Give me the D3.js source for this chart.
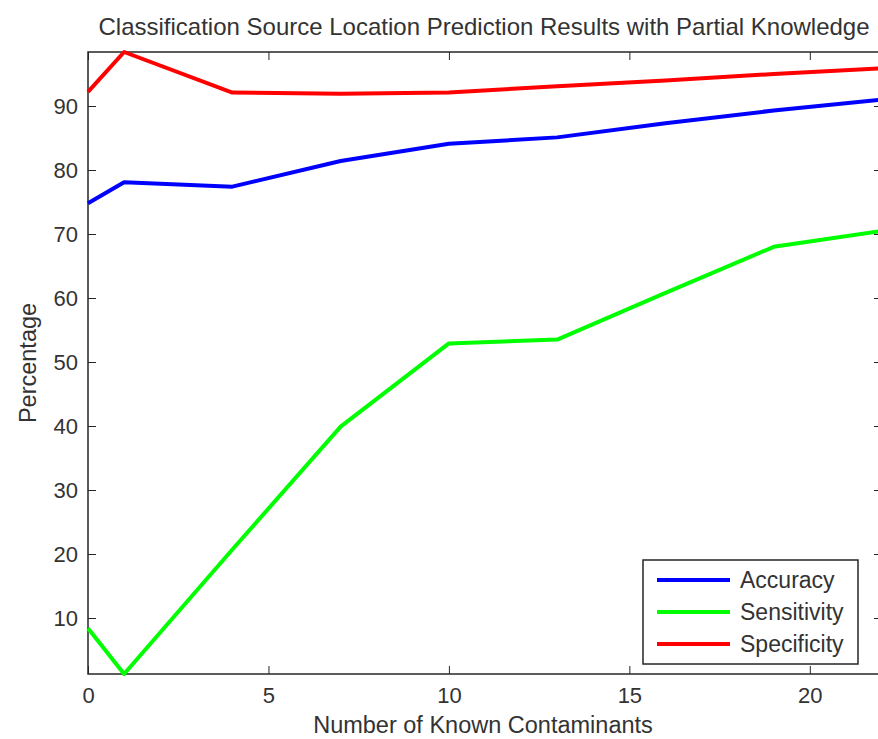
<!DOCTYPE html>
<html>
<head>
<meta charset="utf-8">
<script src="https://cdn.jsdelivr.net/npm/d3@7"></script>
<style>
  body { margin: 0; background: #fff; }
  svg { display: block; }
</style>
</head>
<body>
<script>
//------------------------------------------------------------------------------
// Data
//------------------------------------------------------------------------------

var knownContaminants = [0, 1, 4, 7, 10, 13, 16, 19, 22];
var accuracy    = [74.8, 78.1, 77.4, 81.4, 84.1, 85.1, 87.3, 89.3, 91.0];
var sensitivity = [8.4, 1.25, 20.7, 39.9, 52.9, 53.5, 60.8, 68.0, 70.5];
var specificity = [92.2, 98.44, 92.1, 91.9, 92.1, 93.1, 94.0, 95.0, 95.9];

var seriesNames = ["Accuracy", "Sensitivity", "Specificity"];
var xTicks = [0, 5, 10, 15, 20];
var yTicks = [10, 20, 30, 40, 50, 60, 70, 80, 90];

//------------------------------------------------------------------------------
// Layout
//------------------------------------------------------------------------------

var width = 878, height = 739;
var box = {left: 88, right: 882, top: 52, bottom: 674};
var colors = {"Accuracy": "#0000ff", "Sensitivity": "#00ff00", "Specificity": "#ff0000"};
var font = "'Liberation Sans', Arial, Helvetica, sans-serif";
var ink = "#262626";
var textInk = "#333";

var x = d3.scaleLinear().domain([0, 22]).range([box.left, box.right]);
var y = d3.scaleLinear().domain([1.25, 98.44]).range([box.bottom, box.top]);

var svg = d3.select("body").append("svg")
  .attr("width", width)
  .attr("height", height);

//--------------------------------------
// Axes (box with inward ticks)
//--------------------------------------

var tickLen = 8;

svg.append("g")
  .attr("transform", "translate(0," + box.bottom + ")")
  .call(d3.axisBottom(x).tickValues(xTicks).tickSizeInner(-tickLen).tickSizeOuter(0).tickPadding(13))
  .call(function(g) {
    g.select(".domain").remove();
    g.selectAll("line").attr("stroke", ink);
    g.selectAll("text").attr("font-family", font).attr("font-size", "22px").attr("fill", textInk);
  });

svg.append("g")
  .attr("transform", "translate(0," + box.top + ")")
  .call(d3.axisTop(x).tickValues(xTicks).tickSizeInner(-tickLen).tickSizeOuter(0).tickFormat(""))
  .call(function(g) {
    g.select(".domain").remove();
    g.selectAll("line").attr("stroke", ink);
  });

svg.append("g")
  .attr("transform", "translate(" + box.left + ",0)")
  .call(d3.axisLeft(y).tickValues(yTicks).tickSizeInner(-tickLen).tickSizeOuter(0).tickPadding(10))
  .call(function(g) {
    g.select(".domain").remove();
    g.selectAll("line").attr("stroke", ink);
    g.selectAll("text").attr("font-family", font).attr("font-size", "22px").attr("fill", textInk);
  });

svg.append("g")
  .attr("transform", "translate(" + box.right + ",0)")
  .call(d3.axisRight(y).tickValues(yTicks).tickSizeInner(-tickLen).tickSizeOuter(0).tickFormat(""))
  .call(function(g) {
    g.select(".domain").remove();
    g.selectAll("line").attr("stroke", ink);
  });

svg.append("rect")
  .attr("x", box.left)
  .attr("y", box.top)
  .attr("width", box.right - box.left)
  .attr("height", box.bottom - box.top)
  .attr("fill", "none")
  .attr("stroke", ink)
  .attr("stroke-width", 1.5);

//--------------------------------------
// Lines
//--------------------------------------

var series = [
  {name: "Accuracy", values: accuracy},
  {name: "Sensitivity", values: sensitivity},
  {name: "Specificity", values: specificity}
];

var line = d3.line()
  .x(function(d, i) { return x(knownContaminants[i]); })
  .y(function(d) { return y(d); });

svg.append("g")
  .selectAll("path")
  .data(series)
  .enter().append("path")
    .attr("d", function(d) { return line(d.values); })
    .attr("fill", "none")
    .attr("stroke", function(d) { return colors[d.name]; })
    .attr("stroke-width", 4)
    .attr("stroke-linejoin", "round");

//--------------------------------------
// Legend
//--------------------------------------

var legend = svg.append("g").attr("transform", "translate(643,560)");

legend.append("rect")
  .attr("width", 215)
  .attr("height", 104)
  .attr("fill", "#fff")
  .attr("stroke", ink)
  .attr("stroke-width", 1.5);

var item = legend.selectAll(".item")
  .data(seriesNames)
  .enter().append("g")
    .attr("class", "item")
    .attr("transform", function(d, i) { return "translate(0," + (20 + i * 32) + ")"; });

item.append("line")
  .attr("x1", 14)
  .attr("x2", 87)
  .attr("stroke", function(d) { return colors[d]; })
  .attr("stroke-width", 4);

item.append("text")
  .attr("x", 97)
  .attr("dy", "0.35em")
  .attr("font-family", font)
  .attr("font-size", "23px")
  .attr("fill", textInk)
  .text(function(d) { return d; });

//--------------------------------------
// Labels
//--------------------------------------

svg.append("text")
  .attr("x", (box.left + box.right) / 2 - 1)
  .attr("y", 35)
  .attr("text-anchor", "middle")
  .attr("font-family", font)
  .attr("font-size", "24px")
  .attr("fill", textInk)
  .text("Classification Source Location Prediction Results with Partial Knowledge");

svg.append("text")
  .attr("x", (box.left + box.right) / 2 - 2)
  .attr("y", 733)
  .attr("text-anchor", "middle")
  .attr("font-family", font)
  .attr("font-size", "23.5px")
  .attr("fill", textInk)
  .text("Number of Known Contaminants");

svg.append("text")
  .attr("transform", "translate(36," + ((box.top + box.bottom) / 2) + ") rotate(-90)")
  .attr("text-anchor", "middle")
  .attr("font-family", font)
  .attr("font-size", "23.5px")
  .attr("fill", textInk)
  .text("Percentage");
</script>
</body>
</html>
